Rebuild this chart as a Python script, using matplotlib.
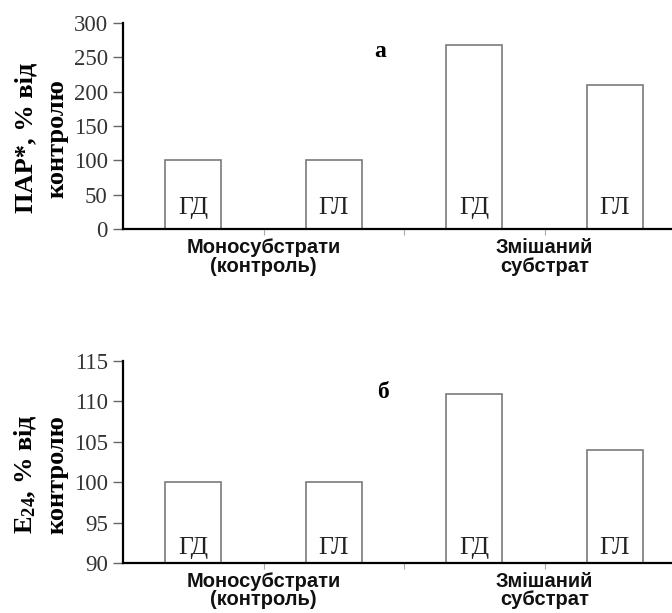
import numpy as np
import matplotlib.pyplot as plt

plt.rcParams['mathtext.default'] = 'regular'

# data
bar_labels = ['ГД', 'ГЛ', 'ГД', 'ГЛ']
groups = ['Моносубстрати\n(контроль)', 'Змішаний\nсубстрат']
par_values = [100, 100, 268, 210]
e24_values = [100, 100, 110.9, 104.0]

W, H = 672, 613
fig = plt.figure(figsize=(W / 100, H / 100), dpi=100)

serif = 'Liberation Serif'
sans = 'Liberation Sans'
x = np.arange(4) + 0.5


def panel(rect, vals, ylim, yticks, ylabel, letter, letter_pos, lab_y, group_y):
    ax = fig.add_axes(rect)
    ax.bar(x, [v - ylim[0] for v in vals], bottom=ylim[0], width=0.4,
           color='white', edgecolor='#7a7a7a', linewidth=1.2, zorder=2)
    ax.set_xlim(0, 3.907)
    ax.set_ylim(*ylim)
    ax.set_yticks(yticks)
    ax.set_yticklabels([str(t) for t in yticks], fontfamily=serif, fontsize=16.5,
                       color='#333333')
    ax.set_xticks([1, 2, 3])
    ax.set_xticklabels([])
    ax.tick_params(axis='x', length=4, width=0.8, color='#aaaaaa', direction='out')
    ax.tick_params(axis='y', length=7, width=1.0, pad=4, color='#666666')
    for s in ['top', 'right']:
        ax.spines[s].set_visible(False)
    for s in ['left', 'bottom']:
        ax.spines[s].set_linewidth(1.6)
    ax.spines['bottom'].set_zorder(3)
    for xi, lab in zip(x, bar_labels):
        ax.text(xi, lab_y, lab, transform=ax.get_xaxis_transform(), ha='center',
                va='top', fontfamily=serif, fontsize=18.5, color='#222222', zorder=4)
    ax.text(letter_pos[0], letter_pos[1], letter, transform=ax.transAxes,
            ha='center', va='center', fontfamily=serif, fontweight='bold', fontsize=17)
    ax.set_ylabel(ylabel, fontfamily=serif, fontweight='bold', fontsize=19,
                  linespacing=1.4)
    ax.yaxis.set_label_coords(-0.1, 0.44)
    for gx, g in zip([1, 3], groups):
        ax.text(gx, group_y, g, transform=ax.get_xaxis_transform(), ha='center',
                va='top', fontfamily=sans, fontweight='bold', fontsize=14.5,
                linespacing=0.95, color='#111111')
    return ax


panel([123 / W, 1 - 229 / H, (W - 123) / W, 206 / H], par_values, (0, 300),
      [0, 50, 100, 150, 200, 250, 300], 'ПАР*, % від\nконтролю', 'а',
      (0.468, 0.86), 0.155, -0.045)
panel([123 / W, 1 - 563 / H, (W - 123) / W, 202 / H], e24_values, (90, 115),
      [90, 95, 100, 105, 110, 115], 'E$_{24}$, % від\nконтролю', 'б',
      (0.474, 0.845), 0.13, -0.045)

fig.savefig('out.png', dpi=100)
